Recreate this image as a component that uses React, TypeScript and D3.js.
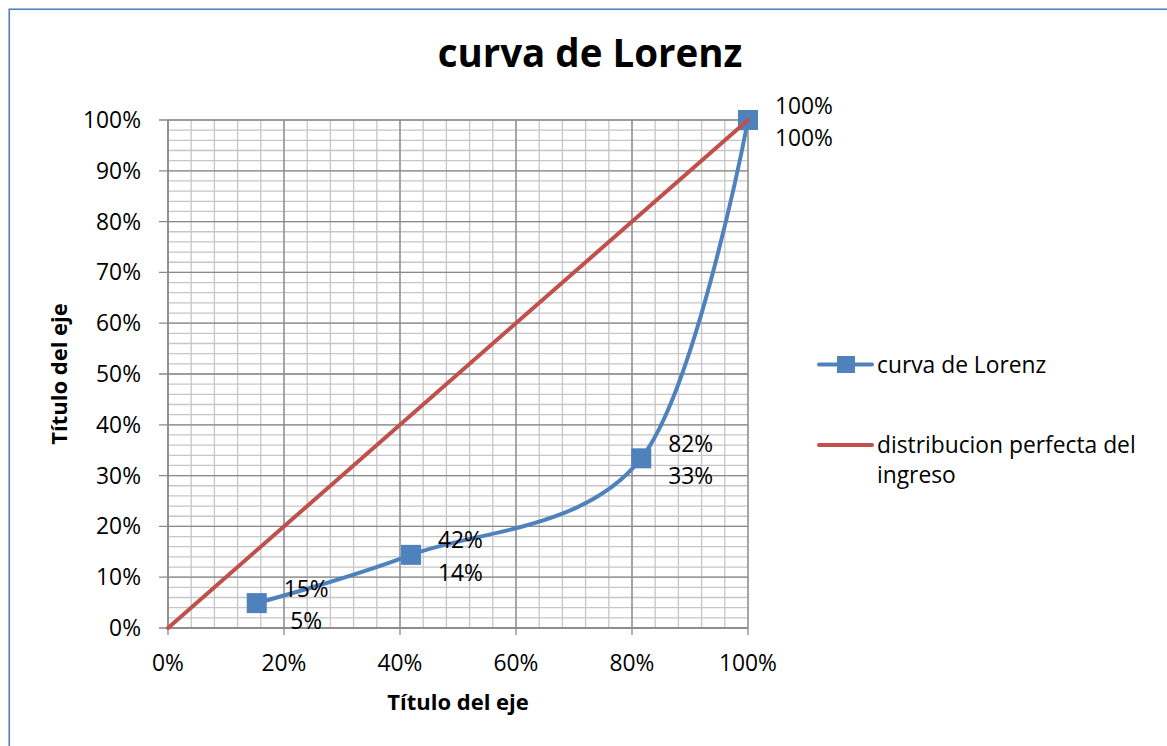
import React from 'react';
import * as d3 from 'd3';

// ---------- data ----------
const lorenzShareX = [0.153, 0.419, 0.816, 1.0];
const lorenzShareY = [0.049, 0.144, 0.334, 1.0];
const lorenzLabelX = ['15%', '42%', '82%', '100%'];
const lorenzLabelY = ['5%', '14%', '33%', '100%'];
const perfectX = [0, 1];
const perfectY = [0, 1];
const xTickValues = [0, 0.2, 0.4, 0.6, 0.8, 1];
const xTickLabels = ['0%', '20%', '40%', '60%', '80%', '100%'];
const yTickValues = [0, 0.1, 0.2, 0.3, 0.4, 0.5, 0.6, 0.7, 0.8, 0.9, 1];
const yTickLabels = ['0%', '10%', '20%', '30%', '40%', '50%', '60%', '70%', '80%', '90%', '100%'];
const seriesNames = ['curva de Lorenz', 'distribucion perfecta del', 'ingreso'];
const titleText = 'curva de Lorenz';
const xAxisTitle = 'Título del eje';
const yAxisTitle = 'Título del eje';

// ---------- layout / style ----------
const W = 1167;
const H = 746;
const PL = 168, PR = 748, PT = 120, PB = 628;
const BLUE = '#4F81BD';
const RED = '#C0504D';
const FONT = "'Open Sans', 'Noto Sans', sans-serif";
const FS = 22.8;
const MAJOR = '#8a8a8a';
const MINOR = '#c6c6c6';

function textW(s: string, fs: number) {
  let w = 0;
  for (const ch of s) w += ch === '%' ? 0.82 : 0.572;
  return w * fs;
}

export default function App() {
  const x = d3.scaleLinear().domain([0, 1]).range([PL, PR]);
  const y = d3.scaleLinear().domain([0, 1]).range([PB, PT]);
  const xMinor = d3.range(0, 26).map((i) => i * 0.04);
  const yMinor = d3.range(0, 51).map((i) => i * 0.02);

  const lorenz = lorenzShareX.map((v, i) => [v, lorenzShareY[i]] as [number, number]);
  const perfect = perfectX.map((v, i) => [v, perfectY[i]] as [number, number]);

  const smooth = d3
    .line<[number, number]>()
    .x((d) => x(d[0]))
    .y((d) => y(d[1]))
    .curve(d3.curveCardinal.tension(0));
  const straight = d3
    .line<[number, number]>()
    .x((d) => x(d[0]))
    .y((d) => y(d[1]));

  const MK = 20;

  return (
    <svg
      width={W}
      height={H}
      style={{ position: 'absolute', left: 0, top: 0, background: '#fff' }}
      fontFamily={FONT}
    >
      <rect x={0} y={0} width={W} height={H} fill="#fff" />
      {/* outer chart border */}
      <rect x={9.25} y={9.25} width={W + 20} height={H + 20} fill="none" stroke={BLUE} strokeWidth={1.6} />

      {/* title */}
      <text x={590} y={67} textAnchor="middle" fontSize={38.5} fontWeight="bold" fill="#000">
        {titleText}
      </text>

      {/* minor gridlines */}
      {xMinor.map((v, i) => (
        <line key={'xm' + i} x1={x(v)} x2={x(v)} y1={PT} y2={PB} stroke={MINOR} strokeWidth={1.3} />
      ))}
      {yMinor.map((v, i) => (
        <line key={'ym' + i} x1={PL} x2={PR} y1={y(v)} y2={y(v)} stroke={MINOR} strokeWidth={1.3} />
      ))}
      {/* major gridlines + ticks */}
      {xTickValues.map((v, i) => (
        <line key={'xM' + i} x1={x(v)} x2={x(v)} y1={PT} y2={PB + 7} stroke={MAJOR} strokeWidth={1.3} />
      ))}
      {yTickValues.map((v, i) => (
        <line key={'yM' + i} x1={PL - 9} x2={PR} y1={y(v)} y2={y(v)} stroke={MAJOR} strokeWidth={1.3} />
      ))}
      {/* axes */}
      <line x1={PL} x2={PL} y1={PT} y2={PB} stroke={MAJOR} strokeWidth={1.5} />
      <line x1={PL} x2={PR} y1={PB} y2={PB} stroke={MAJOR} strokeWidth={1.5} />

      {/* tick labels */}
      {yTickValues.map((v, i) => (
        <text key={'yl' + i} x={141} y={y(v) + 8} textAnchor="end" fontSize={FS} fill="#000">
          {yTickLabels[i]}
        </text>
      ))}
      {xTickValues.map((v, i) => (
        <text key={'xl' + i} x={x(v)} y={671} textAnchor="middle" fontSize={FS} fill="#000">
          {xTickLabels[i]}
        </text>
      ))}

      {/* axis titles */}
      <text x={(PL + PR) / 2} y={710} textAnchor="middle" fontSize={22} fontWeight="bold" fill="#000">
        {xAxisTitle}
      </text>
      <text
        transform={`translate(67, ${(PT + PB) / 2}) rotate(-90)`}
        textAnchor="middle"
        fontSize={22}
        fontWeight="bold"
        fill="#000"
      >
        {yAxisTitle}
      </text>

      {/* Lorenz series */}
      <path d={smooth(lorenz) || ''} fill="none" stroke={BLUE} strokeWidth={4} strokeLinejoin="round" strokeLinecap="round" />
      {lorenz.map((d, i) => (
        <rect key={'mk' + i} x={x(d[0]) - MK / 2} y={y(d[1]) - MK / 2} width={MK} height={MK} fill={BLUE} />
      ))}

      {/* perfect distribution */}
      <path d={straight(perfect) || ''} fill="none" stroke={RED} strokeWidth={4} strokeLinecap="round" />

      {/* data labels */}
      {lorenz.map((d, i) => {
        const px = x(d[0]);
        const py = y(d[1]);
        const wMax = Math.max(textW(lorenzLabelX[i], FS), textW(lorenzLabelY[i], FS));
        const cx = px + 27 + wMax / 2;
        return (
          <g key={'dl' + i}>
            <text x={cx} y={py - 6.5} textAnchor="middle" fontSize={FS} fill="#000">
              {lorenzLabelX[i]}
            </text>
            <text x={cx} y={py + 26} textAnchor="middle" fontSize={FS} fill="#000">
              {lorenzLabelY[i]}
            </text>
          </g>
        );
      })}

      {/* legend */}
      <line x1={819} x2={872} y1={364.5} y2={364.5} stroke={BLUE} strokeWidth={4} strokeLinecap="round" />
      <rect x={837} y={356} width={18} height={17} fill={BLUE} />
      <text x={877} y={372.5} fontSize={FS} fill="#000">
        {seriesNames[0]}
      </text>
      <line x1={819} x2={872} y1={445} y2={445} stroke={RED} strokeWidth={4} strokeLinecap="round" />
      <text x={877} y={453} fontSize={FS} fill="#000">
        {seriesNames[1]}
      </text>
      <text x={877} y={482.5} fontSize={FS} fill="#000">
        {seriesNames[2]}
      </text>
    </svg>
  );
}
